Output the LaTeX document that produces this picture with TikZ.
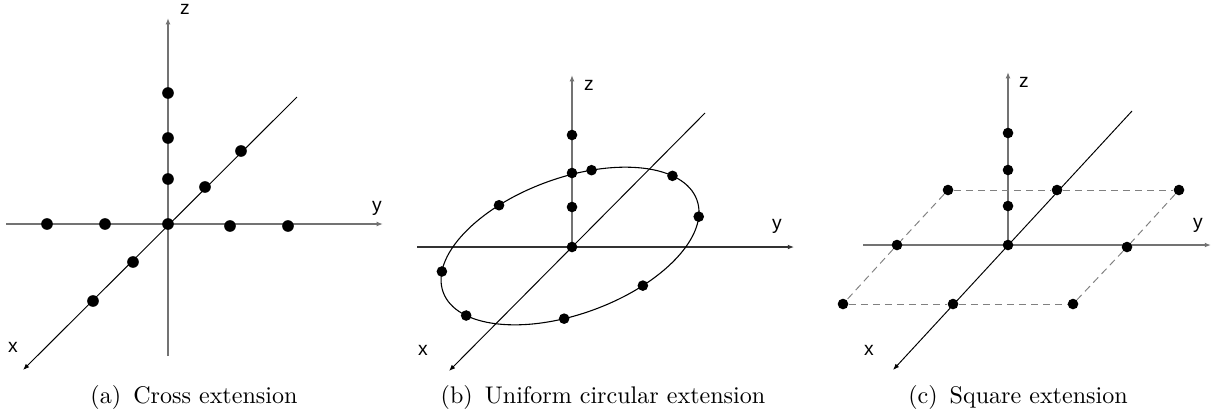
\documentclass[tikz,border=0pt]{standalone}
\usepackage{fontspec}
\newfontfamily\axisfont{Liberation Sans}
\usetikzlibrary{arrows.meta,positioning,calc}
\definecolor{axisgray}{gray}{0.45}
\definecolor{dashgray}{gray}{0.5}
\tikzset{
  dot/.style={
    circle, fill=black, draw=none,
    minimum size=1.55mm, inner sep=0pt
  },
  bigdot/.style={dot, minimum size=1.7mm},
  axislabel/.style={
    inner sep=0pt, font=\axisfont\fontsize{8}{9}\selectfont
  },
  caption/.style={
    inner sep=0pt, font=\normalsize
  },
  axis/.style={-{Latex[length=2.6pt,width=2pt]}, draw=axisgray, line width=0.7pt},
  diag/.style={-{Latex[length=2.6pt,width=2pt]}, draw=black, line width=0.4pt},
  edge/.style={draw=dashgray, line width=0.4pt, dash pattern=on 3pt off 2pt}
}

\begin{document}
\begin{tikzpicture}[x=0.0146cm, y=-0.0146cm]
  \useasboundingbox (0,0) rectangle (1212,419);

  % (a) Cross extension
  \coordinate (ao) at (168,224);
  \coordinate (azb) at (168,356);
  \coordinate (azt) at (168,18);
  \coordinate (ayl) at (6,224);
  \coordinate (ayr) at (383,224);
  \coordinate (axt) at (297,97);
  \coordinate (axb) at (23,370);
  \draw[axis] (azb) -- (azt);
  \draw[axis] (ayl) -- (ayr);
  \draw[diag] (axt) -- (axb);
  \node[axislabel] (alz) at (185,9) {z};
  \node[axislabel] (aly) at (377,208) {y};
  \node[axislabel] (alx) at (13,347) {x};
  \node[bigdot] (a0) at (ao) {};
  \foreach \n/\p in {z1/93, z2/138, z3/179}
    \node[bigdot] (a\n) at (168,\p) {};
  \foreach \n/\p/\q in {y1/47/224, y2/105/224, y3/230/226, y4/288/226,
                        x1/241/151, x2/205/187, x3/133/262, x4/93/301}
    \node[bigdot] (a\n) at (\p,\q) {};
  \node[caption] (acap) at (194,397) {(a)\hspace{0.5em}Cross extension};

  % (b) Uniform circular extension
  \coordinate (bo) at (572,247);
  \coordinate (bzt) at (572,75);
  \coordinate (byl) at (417,247);
  \coordinate (byr) at (794,247);
  \coordinate (bxt) at (705,113);
  \coordinate (bxb) at (449,371);
  \coordinate (bc) at (570,246);
  \draw[axis, line width=0.55pt] (bo) -- (bzt);
  \draw[axis, draw=black!80, line width=0.45pt] (byl) -- (byr);
  \draw[diag] (bxt) -- (bxb);
  \draw[black, line width=0.45pt, rotate around={20:(bc)}] (bc) ellipse [x radius=135, y radius=68];
  \node[axislabel] (blz) at (589,85) {z};
  \node[axislabel] (bly) at (777,226) {y};
  \node[axislabel] (blx) at (423,350) {x};
  \node[dot] (b0) at (bo) {};
  \foreach \n/\p in {z1/135, z2/173, z3/207}
    \node[dot] (b\n) at (572,\p) {};
  \begin{scope}[shift={(bc)}, rotate=20]
    \foreach \t [count=\i] in {70, 27, -14, -66, -103, -154, 163, 113}
      \node[dot] (bc\i) at ({135*cos(\t)}, {-68*sin(\t)}) {};
  \end{scope}
  \node[caption] (bcap) at (603,397) {(b)\hspace{0.5em}Uniform circular extension};

  % (c) Square extension
  \coordinate (co) at (1008,245);
  \coordinate (czt) at (1008,72);
  \coordinate (cyl) at (863,245);
  \coordinate (cyr) at (1211,245);
  \coordinate (cxt) at (1132,111);
  \coordinate (cxb) at (893,370);
  \draw[axis, line width=0.55pt] (co) -- (czt);
  \draw[axis, line width=0.55pt] (cyl) -- (cyr);
  \draw[diag] (cxt) -- (cxb);
  \node[axislabel] (clz) at (1024,82) {z};
  \node[axislabel] (cly) at (1198,225) {y};
  \node[axislabel] (clx) at (869,350) {x};
  \node[dot] (c0) at (co) {};
  \foreach \n/\p in {z1/133, z2/170, z3/206}
    \node[dot] (c\n) at (1008,\p) {};
  \node[dot] (cbl) at (948,190) {};
  \node[dot] (cbm) at (1057,190) {};
  \node[dot] (cbr) at (1179,190) {};
  \node[dot] (cml) at (897,245) {};
  \node[dot] (cmr) at (1127,247) {};
  \node[dot] (cfl) at (843,304) {};
  \node[dot] (cfm) at (953,304) {};
  \node[dot] (cfr) at (1073,304) {};
  % dashed square through the dots
  \draw[edge] (cbl) -- (cbm) -- (cbr);
  \draw[edge] (cfl) -- (cfm) -- (cfr);
  \draw[edge] (cbl) -- (cml) -- (cfl);
  \draw[edge] (cbr) -- (cmr) -- (cfr);
  \node[caption] (ccap) at (1018,397) {(c)\hspace{0.5em}Square extension};

\end{tikzpicture}
\end{document}
